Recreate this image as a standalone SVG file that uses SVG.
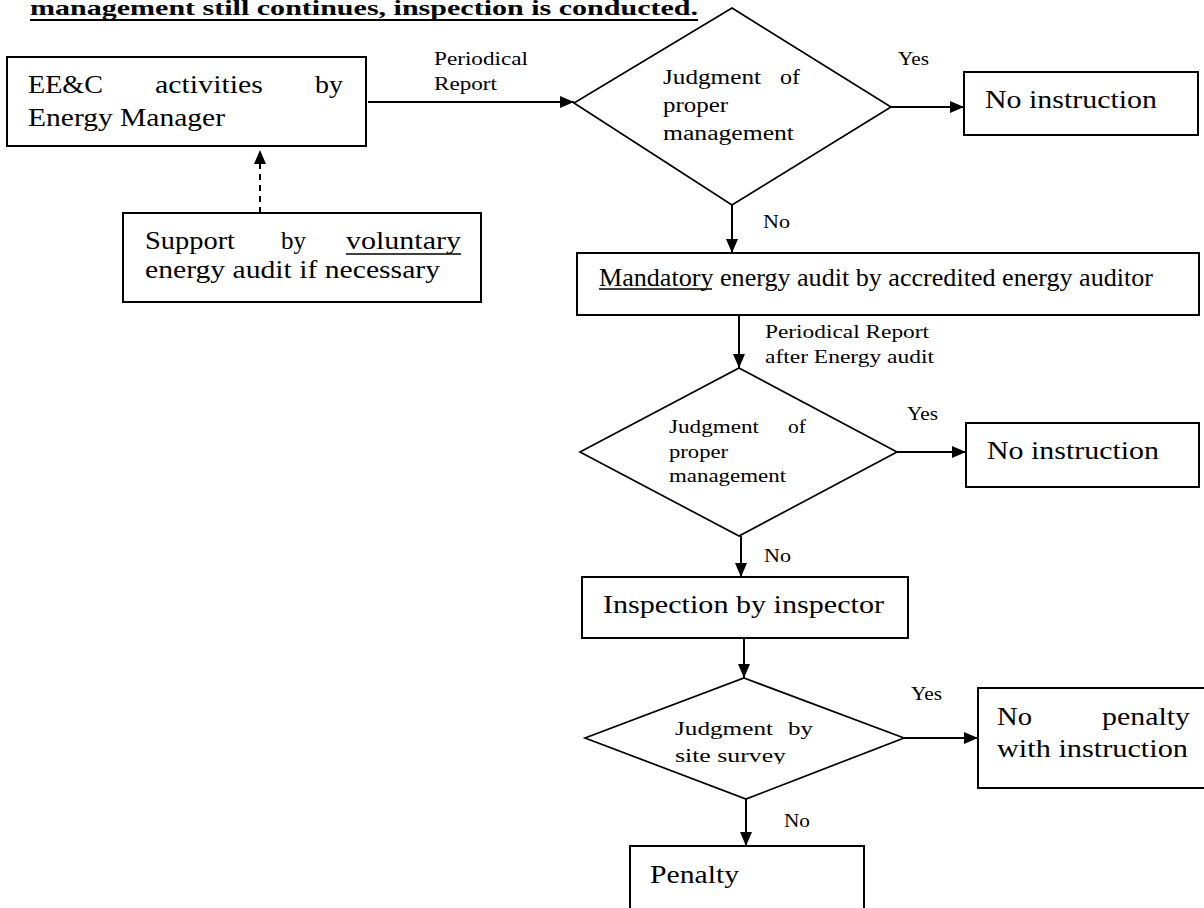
<svg xmlns="http://www.w3.org/2000/svg" width="1204" height="908" viewBox="0 0 1204 908">
<style>
.box{fill:#fff;stroke:#000;stroke-width:2}
.dia{fill:#fff;stroke:#000;stroke-width:1.7}
.ln{stroke:#000;stroke-width:2;fill:none}
.big{font-family:"Liberation Serif","Times New Roman",serif;font-size:25px;fill:#000}
.mid{font-family:"Liberation Serif","Times New Roman",serif;font-size:20px;fill:#000}
.sm{font-family:"Liberation Serif","Times New Roman",serif;font-size:19px;fill:#000}
.ttl{font-family:"Liberation Serif","Times New Roman",serif;font-size:21px;font-weight:bold;fill:#000}
</style>
<defs>
<marker id="arr" viewBox="0 0 14 12" refX="14" refY="6" markerWidth="14" markerHeight="12" markerUnits="userSpaceOnUse" orient="auto">
<path d="M0,0 L14,6 L0,12 z" fill="#000"/>
</marker>
<clipPath id="clipSurvey"><rect x="600" y="700" width="300" height="64"/></clipPath>
</defs>
<rect width="1204" height="908" fill="#fff"/>

<g id="title">
<text class="ttl" x="30" y="15" textLength="668" lengthAdjust="spacingAndGlyphs">management still continues, inspection is conducted.</text>
<line x1="30" y1="20" x2="698" y2="20" stroke="#000" stroke-width="2"/>
</g>

<g id="connectors">
<line class="ln" x1="368" y1="102" x2="574" y2="102" marker-end="url(#arr)"/>
<line class="ln" x1="260" y1="213" x2="260" y2="150" stroke-dasharray="6,5" marker-end="url(#arr)"/>
<line class="ln" x1="891" y1="107" x2="964" y2="107" marker-end="url(#arr)"/>
<line class="ln" x1="732" y1="205" x2="732" y2="253" marker-end="url(#arr)"/>
<line class="ln" x1="739" y1="315" x2="739" y2="368" marker-end="url(#arr)"/>
<line class="ln" x1="897" y1="452" x2="966" y2="452" marker-end="url(#arr)"/>
<line class="ln" x1="741" y1="536" x2="741" y2="577" marker-end="url(#arr)"/>
<line class="ln" x1="744" y1="638" x2="744" y2="678" marker-end="url(#arr)"/>
<line class="ln" x1="904" y1="738" x2="978" y2="738" marker-end="url(#arr)"/>
<line class="ln" x1="746" y1="799" x2="746" y2="846" marker-end="url(#arr)"/>
<text class="sm" x="434" y="65" textLength="94" lengthAdjust="spacingAndGlyphs">Periodical</text>
<text class="sm" x="434" y="90" textLength="63" lengthAdjust="spacingAndGlyphs">Report</text>
<text class="sm" x="898" y="65" textLength="31" lengthAdjust="spacingAndGlyphs">Yes</text>
<text class="sm" x="763" y="228" textLength="27" lengthAdjust="spacingAndGlyphs">No</text>
<text class="sm" x="765" y="338" textLength="164" lengthAdjust="spacingAndGlyphs">Periodical Report</text>
<text class="sm" x="765" y="363" textLength="169" lengthAdjust="spacingAndGlyphs">after Energy audit</text>
<text class="sm" x="907" y="420" textLength="31" lengthAdjust="spacingAndGlyphs">Yes</text>
<text class="sm" x="764" y="562" textLength="27" lengthAdjust="spacingAndGlyphs">No</text>
<text class="sm" x="911" y="700" textLength="31" lengthAdjust="spacingAndGlyphs">Yes</text>
<text class="sm" x="784" y="827" textLength="26" lengthAdjust="spacingAndGlyphs">No</text>
</g>

<g id="node-eec">
<rect class="box" x="7" y="57" width="359" height="89"/>
<text class="big" x="28" y="93" textLength="75" lengthAdjust="spacingAndGlyphs">EE&amp;C</text>
<text class="big" x="155" y="93" textLength="108" lengthAdjust="spacingAndGlyphs">activities</text>
<text class="big" x="315" y="93" textLength="28" lengthAdjust="spacingAndGlyphs">by</text>
<text class="big" x="28" y="126" textLength="197" lengthAdjust="spacingAndGlyphs">Energy Manager</text>
</g>

<g id="node-support">
<rect class="box" x="123" y="213" width="358" height="89"/>
<text class="big" x="145" y="249" textLength="90" lengthAdjust="spacingAndGlyphs">Support</text>
<text class="big" x="281" y="249" textLength="25" lengthAdjust="spacingAndGlyphs">by</text>
<text class="big" x="346" y="249" textLength="115" lengthAdjust="spacingAndGlyphs">voluntary</text>
<line x1="346" y1="254" x2="461" y2="254" stroke="#000" stroke-width="1.3"/>
<text class="big" x="145" y="278" textLength="295" lengthAdjust="spacingAndGlyphs">energy audit if necessary</text>
</g>

<g id="node-judge1">
<polygon class="dia" points="732,8 891,107 732,205 574,103"/>
<text class="mid" x="663" y="84" textLength="98" lengthAdjust="spacingAndGlyphs">Judgment</text>
<text class="mid" x="780" y="84" textLength="20" lengthAdjust="spacingAndGlyphs">of</text>
<text class="mid" x="663" y="112" textLength="65" lengthAdjust="spacingAndGlyphs">proper</text>
<text class="mid" x="663" y="140" textLength="131" lengthAdjust="spacingAndGlyphs">management</text>
</g>

<g id="node-noinstr1">
<rect class="box" x="964" y="72" width="234" height="63"/>
<text class="big" x="985" y="108" textLength="172" lengthAdjust="spacingAndGlyphs">No instruction</text>
</g>

<g id="node-mandatory">
<rect class="box" x="577" y="253" width="622" height="62"/>
<text class="big" x="599" y="286" textLength="554" lengthAdjust="spacingAndGlyphs">Mandatory energy audit by accredited energy auditor</text>
<line x1="599" y1="289" x2="712" y2="289" stroke="#000" stroke-width="1.3"/>
</g>

<g id="node-judge2">
<polygon class="dia" points="739,368 897,452 739,536 580,452"/>
<text class="sm" x="669" y="433" textLength="90" lengthAdjust="spacingAndGlyphs">Judgment</text>
<text class="sm" x="788" y="433" textLength="18" lengthAdjust="spacingAndGlyphs">of</text>
<text class="sm" x="669" y="458" textLength="59" lengthAdjust="spacingAndGlyphs">proper</text>
<text class="sm" x="669" y="482" textLength="117" lengthAdjust="spacingAndGlyphs">management</text>
</g>

<g id="node-noinstr2">
<rect class="box" x="966" y="423" width="233" height="64"/>
<text class="big" x="987" y="459" textLength="172" lengthAdjust="spacingAndGlyphs">No instruction</text>
</g>

<g id="node-inspection">
<rect class="box" x="582" y="577" width="326" height="61"/>
<text class="big" x="603" y="613" textLength="281" lengthAdjust="spacingAndGlyphs">Inspection by inspector</text>
</g>

<g id="node-judge3">
<polygon class="dia" points="744,678 904,738 746,799 585,738"/>
<text class="sm" x="675" y="735" textLength="98" lengthAdjust="spacingAndGlyphs">Judgment</text>
<text class="sm" x="788" y="735" textLength="25" lengthAdjust="spacingAndGlyphs">by</text>
<text class="sm" x="675" y="762" textLength="111" lengthAdjust="spacingAndGlyphs" clip-path="url(#clipSurvey)">site survey</text>
</g>

<g id="node-nopenalty">
<rect class="box" x="978" y="688" width="240" height="100"/>
<text class="big" x="997" y="725" textLength="35" lengthAdjust="spacingAndGlyphs">No</text>
<text class="big" x="1102" y="725" textLength="88" lengthAdjust="spacingAndGlyphs">penalty</text>
<text class="big" x="997" y="757" textLength="191" lengthAdjust="spacingAndGlyphs">with instruction</text>
</g>

<g id="node-penalty">
<rect class="box" x="630" y="846" width="234" height="80"/>
<text class="big" x="650" y="883" textLength="89" lengthAdjust="spacingAndGlyphs">Penalty</text>
</g>
</svg>
